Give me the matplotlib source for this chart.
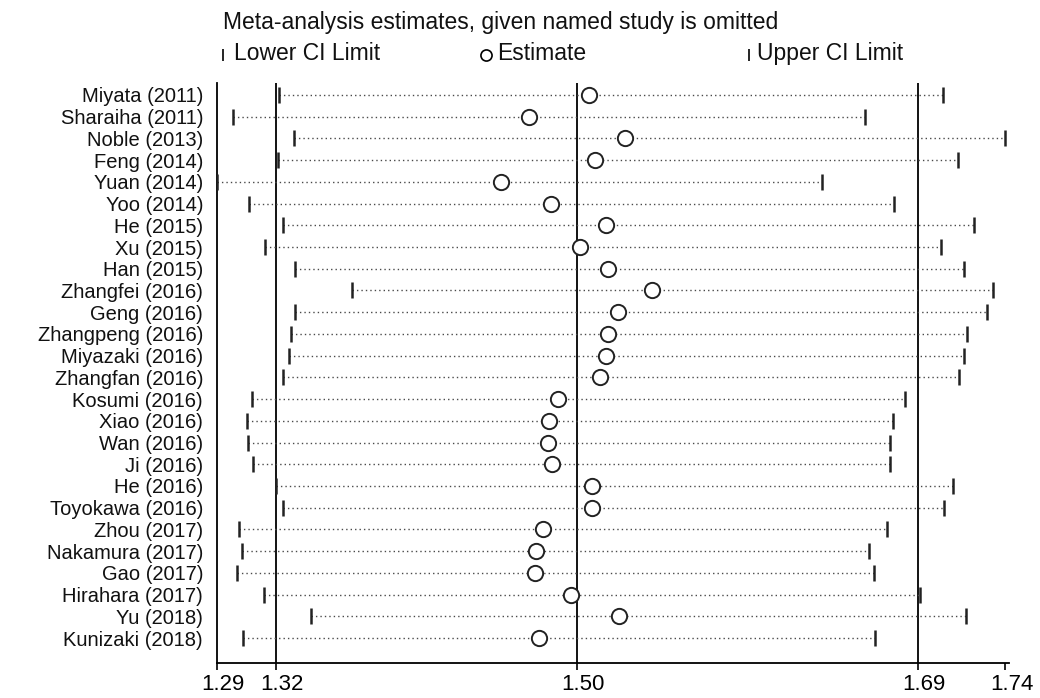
import matplotlib
matplotlib.use("Agg")
import matplotlib.pyplot as plt
from matplotlib.lines import Line2D
from matplotlib.transforms import ScaledTranslation

plt.rcParams["font.family"] = ["Liberation Sans", "DejaVu Sans"]

studies = [
    "Miyata (2011)", "Sharaiha (2011)", "Noble (2013)", "Feng (2014)",
    "Yuan (2014)", "Yoo (2014)", "He (2015)", "Xu (2015)", "Han (2015)",
    "Zhangfei (2016)", "Geng (2016)", "Zhangpeng (2016)", "Miyazaki (2016)",
    "Zhangfan (2016)", "Kosumi (2016)", "Xiao (2016)", "Wan (2016)",
    "Ji (2016)", "He (2016)", "Toyokawa (2016)", "Zhou (2017)",
    "Nakamura (2017)", "Gao (2017)", "Hirahara (2017)", "Yu (2018)",
    "Kunizaki (2018)",
]

lower = [1.3255, 1.2989, 1.3337, 1.3246, 1.2900, 1.3084, 1.3278, 1.3173,
         1.3344, 1.3673, 1.3344, 1.3322, 1.3312, 1.3276, 1.3099, 1.3069,
         1.3078, 1.3107, 1.3236, 1.3276, 1.3027, 1.3041, 1.3012, 1.3166,
         1.3439, 1.3048]
estimate = [1.5025, 1.4679, 1.5228, 1.5057, 1.4518, 1.4806, 1.5120, 1.4973,
            1.5129, 1.5385, 1.5186, 1.5129, 1.5120, 1.5083, 1.4844, 1.4793,
            1.4787, 1.4810, 1.5042, 1.5040, 1.4759, 1.4719, 1.4717, 1.4918,
            1.5192, 1.4738]
upper = [1.7043, 1.6601, 1.7400, 1.7128, 1.6352, 1.6762, 1.7223, 1.7034,
         1.7166, 1.7328, 1.7292, 1.7182, 1.7166, 1.7136, 1.6829, 1.6756,
         1.6739, 1.6739, 1.7100, 1.7048, 1.6726, 1.6621, 1.6652, 1.6914,
         1.7174, 1.6658]

# pooled estimate with all studies
overall = [1.3236, 1.4952, 1.6900]

n = len(studies)
rows = list(range(n))

fig = plt.figure(figsize=(10.4, 6.98), dpi=100)
ax = fig.add_axes([217 / 1040, 1 - 663 / 698, (1009 - 217) / 1040, (663 - 83) / 698])

for v in overall:
    ax.axvline(v, color="black", lw=1.3, zorder=1)

ax.hlines(rows, lower, upper, colors="#4a4a4a", linestyles=(0, (1, 2.2)), lw=1.0, zorder=2)
ax.plot(lower, rows, ls="none", marker="|", ms=12, mew=1.8, color="#222222", zorder=3)
ax.plot(upper, rows, ls="none", marker="|", ms=12, mew=1.8, color="#222222", zorder=3)
ax.plot(estimate, rows, ls="none", marker="o", ms=11, mfc="white", mec="#222222", mew=1.4, zorder=4)

xmin, xmax = min(lower), max(upper)
ax.set_xlim(xmin, xmax + 0.002)
ax.set_ylim(n - 1 + 1.15, -0.55)

ticks = [xmin, overall[0], overall[1], overall[2], xmax]
ax.set_xticks(ticks)
ax.set_xticklabels([f"{t:.2f}" for t in ticks], fontsize=16)
ax.set_yticks(rows)
ax.set_yticklabels(studies, fontsize=14.5, color="#111111")
ax.tick_params(axis="y", length=0, pad=10)
ax.tick_params(axis="x", length=5, width=1.2, pad=3)
shift = ScaledTranslation(6 / 100, 0, fig.dpi_scale_trans)
for lab in ax.get_xticklabels():
    lab.set_transform(lab.get_transform() + shift)

for s in ["top", "right"]:
    ax.spines[s].set_visible(False)
ax.spines["left"].set_linewidth(1.3)
ax.spines["bottom"].set_linewidth(1.3)

def fy(py):
    return 1 - py / 698

fig.text(223 / 1040, fy(28.5), "Meta-analysis estimates, given named study is omitted",
         fontsize=16.5, va="baseline", ha="left", color="#111111")
for bx in [223, 749]:
    fig.add_artist(Line2D([bx / 1040], [fy(54.5)], marker="|", ms=8, mew=1.2,
                          color="black", transform=fig.transFigure))
fig.text(234 / 1040, fy(60), "Lower CI Limit", fontsize=16.5, va="baseline", ha="left", color="#111111")
fig.add_artist(Line2D([486 / 1040], [fy(54.5)], marker="o", ms=8, mfc="white",
                      mec="black", mew=1.2, transform=fig.transFigure))
fig.text(497 / 1040, fy(60), "Estimate", fontsize=16.5, va="baseline", ha="left", color="#111111")
fig.text(757 / 1040, fy(60), "Upper CI Limit", fontsize=16.5, va="baseline", ha="left", color="#111111")

fig.savefig("out.png", dpi=100, facecolor="white")
